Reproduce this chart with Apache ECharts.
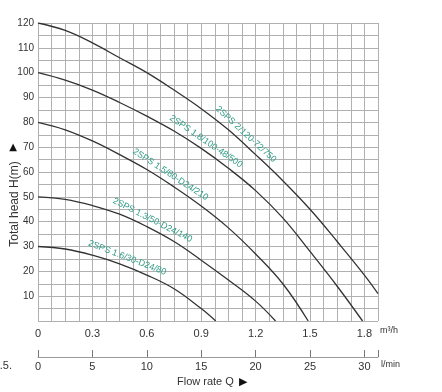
<!DOCTYPE html>
<html><head><meta charset="utf-8">
<script src="https://cdn.jsdelivr.net/npm/echarts@6/dist/echarts.min.js"></script>
<style>html,body{margin:0;padding:0;background:#fff}#c{width:442px;height:392px}</style>
</head><body><div id="c"></div>
<script>
// ---- data ----
const xTickLabels = [0, 0.3, 0.6, 0.9, 1.2, 1.5, 1.8];            // m3/h
const yTickLabels = [10, 20, 30, 40, 50, 60, 70, 80, 90, 100, 110, 120];
const lpmTickLabels = [0, 5, 10, 15, 20, 25, 30];                  // l/min

const curve1Q = [0, 0.15, 0.3, 0.45, 0.6, 0.75, 0.9, 0.98];
const curve1H = [30, 29, 26.5, 23, 18.5, 13, 5, 0];
const curve2Q = [0, 0.15, 0.3, 0.45, 0.6, 0.75, 0.9, 1.05, 1.2, 1.31];
const curve2H = [50, 49, 46.5, 43, 38, 32, 24.5, 16.5, 8, 0];
const curve3Q = [0, 0.15, 0.3, 0.45, 0.6, 0.75, 0.9, 1.05, 1.2, 1.35, 1.49];
const curve3H = [80, 77, 72.5, 67, 61, 54, 46.3, 37.5, 27, 15, 0];
const curve4Q = [0, 0.15, 0.3, 0.45, 0.6, 0.75, 0.9, 1.05, 1.2, 1.35, 1.5, 1.65, 1.79];
const curve4H = [100, 97, 93, 88, 82.5, 76.5, 69.5, 61.5, 52.5, 41.5, 28, 14, 0];
const curve5Q = [0, 0.15, 0.3, 0.45, 0.6, 0.75, 0.9, 1.05, 1.2, 1.35, 1.5, 1.65, 1.8, 1.875];
const curve5H = [120, 117, 112, 106, 100, 93, 85.5, 77, 67, 56.5, 45, 32, 18.5, 11];

const curveNames = ['2SPS 1.6/30-D24/80', '2SPS 1.3/50-D24/140', '2SPS 1.5/80-D24/210', '2SPS 1.8/100-48/500', '2SPS 2/120-72/750'];
const labelQ = [0.475, 0.61, 0.705, 0.9, 1.115];   // where each model label sits along its curve

const curves = [[curve1Q, curve1H], [curve2Q, curve2H], [curve3Q, curve3H], [curve4Q, curve4H], [curve5Q, curve5H]];
const near = (v, arr) => arr.some(t => Math.abs(v - t) < 1e-6);

const FONT = 'Liberation Sans, Arial, sans-serif';
const chart = echarts.init(document.getElementById('c'), null, {renderer: 'canvas'});
const gridColor = '#b0b0b0';

chart.setOption({
  animation: false,
  backgroundColor: '#fff',
  grid: {left: 38, top: 23, right: 64, bottom: 71, containLabel: false},
  xAxis: [{
    type: 'value', min: 0, max: 1.875, interval: 0.075,
    axisLine: {show: false}, axisTick: {show: false},
    splitLine: {show: true, lineStyle: {color: gridColor, width: 1}},
    axisLabel: {margin: 7, color: '#333', fontSize: 11, fontFamily: FONT,
      formatter: v => near(v, xTickLabels) ? String(xTickLabels.find(t => Math.abs(v - t) < 1e-6)) : '',
      showMaxLabel: true, showMinLabel: true, hideOverlap: false}
  }, {
    type: 'value', position: 'bottom', offset: 36, min: 0, max: 31.25, interval: 5,
    axisLine: {show: true, lineStyle: {color: '#999', width: 1}},
    axisTick: {show: true, inside: true, length: 7, lineStyle: {color: '#777'}},
    splitLine: {show: false},
    axisLabel: {margin: 4, color: '#333', fontSize: 11, fontFamily: FONT,
      formatter: v => near(v, lpmTickLabels) ? String(v) : '', hideOverlap: false}
  }],
  yAxis: {
    type: 'value', min: 0, max: 120, interval: 5,
    axisLine: {show: false}, axisTick: {show: false},
    splitLine: {show: true, lineStyle: {color: gridColor, width: 1}},
    axisLabel: {margin: 4, color: '#333', fontSize: 10, fontFamily: FONT,
      formatter: v => near(v, yTickLabels) ? String(v) : '', hideOverlap: false}
  },
  series: curves.map((c, i) => ({
    type: 'line', name: curveNames[i], xAxisIndex: 0, yAxisIndex: 0,
    data: c[0].map((q, j) => [q, c[1][j]]),
    smooth: 0.4, showSymbol: false, symbol: 'none', clip: true,
    lineStyle: {color: '#333', width: 1.3}
  }))
});

// place each model label just above its curve, aligned with the curve direction
function lerpCurve(qs, hs, q) {
  for (let k = 0; k < qs.length - 1; k++) {
    if (q >= qs[k] && q <= qs[k + 1]) return hs[k] + (hs[k + 1] - hs[k]) * (q - qs[k]) / (qs[k + 1] - qs[k]);
  }
  return hs[hs.length - 1];
}
const toPx = (q, h) => chart.convertToPixel({xAxisIndex: 0, yAxisIndex: 0}, [q, h]);
const texts = [];
curveNames.forEach((n, i) => {
  const qs = curves[i][0], hs = curves[i][1], q = labelQ[i];
  const a = toPx(q - 0.06, lerpCurve(qs, hs, q - 0.06));
  const b = toPx(q + 0.06, lerpCurve(qs, hs, q + 0.06));
  const p = toPx(q, lerpCurve(qs, hs, q));
  const ang = Math.atan2(b[1] - a[1], b[0] - a[0]);
  const d = 8.5;
  const cx = p[0] + Math.sin(ang) * d, cy = p[1] - Math.cos(ang) * d;
  texts.push({type: 'text', x: cx, y: cy, rotation: -ang,
    style: {text: n, fill: '#2f9c86', font: '9px ' + FONT, align: 'center', verticalAlign: 'middle',
      textAlign: 'center', textVerticalAlign: 'middle'}});
});
const plain = (t, x, y, opts) => Object.assign({type: 'text', x: x, y: y,
  style: Object.assign({text: t, fill: '#333', font: '11px ' + FONT, align: 'left', verticalAlign: 'middle',
    textAlign: 'left', textVerticalAlign: 'middle'}, opts || {})});
texts.push(plain('m³/h', 380, 331, {font: '9px ' + FONT}));
texts.push(plain('l/min', 381, 365, {font: '9px ' + FONT}));
texts.push(plain('Flow rate Q', 177, 382, {font: '11px ' + FONT}));
texts.push(plain('▶', 239, 382, {font: '11px DejaVu Sans', fill: '#111'}));
texts.push(plain('1.5.', 12, 366, {font: '11px ' + FONT, align: 'right', textAlign: 'right'}));
texts.push(Object.assign(plain('Total head H(m)', 15, 204, {font: '12px ' + FONT, align: 'center', textAlign: 'center'}), {rotation: Math.PI / 2}));
texts.push(plain('▲', 13, 147, {font: '10px DejaVu Sans', fill: '#111', align: 'center', textAlign: 'center'}));
chart.setOption({graphic: {elements: texts}});
</script>
</body></html>
